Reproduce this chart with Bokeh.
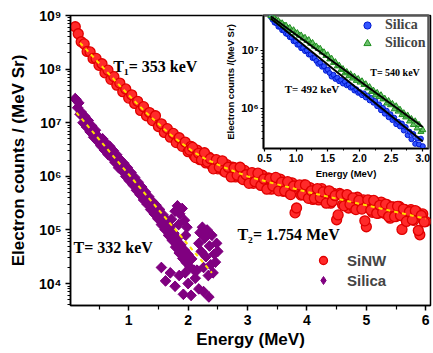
import math
from bokeh.plotting import figure
from bokeh.models import (Range1d, FixedTicker, CustomJSTickFormatter, PrintfTickFormatter,
                          Label, Legend, LegendItem)
from bokeh.layouts import row
from bokeh.embed import file_html
from bokeh.resources import INLINE

# ---------------- main panel data (energy in MeV, log10 of counts / (MeV Sr)) ----------------
sinw_energy = [
    0.10, 0.15, 0.20, 0.25, 0.30, 0.35, 0.40, 0.45, 0.50, 0.55, 0.60, 0.65, 0.70, 0.75, 0.80,
    0.85, 0.90, 0.95, 1.00, 1.05, 1.10, 1.15, 1.20, 1.25, 1.30, 1.35, 1.40, 1.45, 1.50, 1.55,
    1.60, 1.65, 1.70, 1.75, 1.80, 1.85, 1.90, 1.95, 2.00, 2.05, 2.10, 2.15, 2.20, 2.25, 2.30,
    2.35, 2.40, 2.45, 2.50, 2.55, 2.60, 2.65, 2.70, 2.75, 2.80, 2.85, 2.90, 2.95, 3.00, 3.05,
    3.10, 3.15, 3.20, 3.25, 3.30, 3.35, 3.40, 3.45, 3.50, 3.55, 3.60, 3.65, 3.70, 3.75, 3.80,
    3.85, 3.90, 3.95, 4.00, 4.05, 4.10, 4.15, 4.20, 4.25, 4.30, 4.35, 4.40, 4.45, 4.50, 4.55,
    4.60, 4.65, 4.70, 4.75, 4.80, 4.85, 4.90, 4.95, 5.00, 5.05, 5.10, 5.15, 5.20, 5.25, 5.30,
    5.35, 5.40, 5.45, 5.50, 5.55, 5.60, 5.65, 5.70, 5.75, 5.80, 5.85, 5.90, 5.95, 6.00]
sinw_log10_counts = [
    8.79, 8.66, 8.51, 8.47, 8.33, 8.32, 8.20, 8.20, 8.07, 8.10, 7.93, 7.98, 7.81, 7.86, 7.70,
    7.74, 7.58, 7.63, 7.46, 7.52, 7.36, 7.40, 7.23, 7.30, 7.13, 7.19, 7.04, 7.13, 6.93, 6.98,
    6.82, 6.89, 6.73, 6.80, 6.63, 6.72, 6.56, 6.64, 6.46, 6.56, 6.39, 6.49, 6.31, 6.42, 6.25,
    6.36, 6.20, 6.30, 6.14, 6.25, 6.10, 6.22, 6.07, 6.17, 5.99, 6.11, 5.97, 6.11, 5.92, 6.04,
    5.87, 6.03, 5.88, 6.02, 5.82, 5.97, 5.76, 5.95, 5.78, 5.95, 5.72, 5.87, 5.69, 5.88, 5.32,
    5.80, 5.65, 5.84, 5.63, 5.79, 5.57, 5.75, 5.56, 5.77, 5.57, 5.72, 5.50, 5.68, 5.19, 5.68,
    5.47, 5.64, 5.41, 5.58, 5.40, 5.61, 5.41, 5.56, 5.06, 5.55, 5.33, 5.49, 5.31, 5.52, 5.31,
    5.47, 5.22, 5.43, 5.25, 5.44, 5.01, 5.38, 5.19, 5.38, 5.18, 5.34, 4.91, 5.30, 5.16]
# interleaved channels of the high-energy part of the SiNW spectrum
sinw_energy_hi = [
    2.025, 2.075, 2.125, 2.175, 2.225, 2.275, 2.325, 2.375, 2.425, 2.475, 2.525, 2.575,
    2.625, 2.675, 2.725, 2.775, 2.825, 2.875, 2.925, 2.975, 3.025, 3.075, 3.125, 3.175,
    3.225, 3.275, 3.325, 3.375, 3.425, 3.475, 3.525, 3.575, 3.625, 3.675, 3.725, 3.775,
    3.825, 3.875, 3.925, 3.975, 4.025, 4.075, 4.125, 4.175, 4.225, 4.275, 4.325, 4.375,
    4.425, 4.475, 4.525, 4.575, 4.625, 4.675, 4.725, 4.775, 4.825, 4.875, 4.925, 4.975,
    5.025, 5.075, 5.125, 5.175, 5.225, 5.275, 5.325, 5.375, 5.425, 5.475, 5.525, 5.575,
    5.625, 5.675, 5.725, 5.775, 5.825, 5.875, 5.925, 5.975]
sinw_log10_counts_hi = [
    6.49, 6.54, 6.35, 6.43, 6.31, 6.44, 6.27, 6.33, 6.14, 6.31, 6.17, 6.29,
    6.08, 6.17, 5.99, 6.16, 6.02, 6.17, 5.94, 6.03, 5.87, 6.07, 5.90, 6.06,
    5.83, 5.95, 5.76, 5.96, 5.82, 5.98, 5.73, 5.89, 5.73, 5.90, 5.66, 5.82,
    5.41, 5.84, 5.66, 5.84, 5.59, 5.73, 5.59, 5.77, 5.60, 5.71, 5.50, 5.73,
    5.53, 5.64, 5.28, 5.66, 5.45, 5.66, 5.48, 5.60, 5.38, 5.55, 5.39, 5.17,
    5.56, 5.37, 5.55, 5.31, 5.46, 5.33, 5.48, 5.25, 5.43, 5.25, 5.44, 5.27,
    5.39, 5.16, 5.34, 5.19, 5.36, 4.99, 5.27, 5.15]

sinw_fit_energy = [0.18, 0.3, 0.5, 0.7, 0.9, 1.1, 1.3, 1.5, 1.7, 1.9, 2.1, 2.3, 2.6, 3.0,
                   3.5, 4.0, 5.0, 6.0]
sinw_fit_log10 = [8.49, 8.35, 8.11, 7.87, 7.63, 7.40, 7.18, 6.98, 6.78, 6.61, 6.45, 6.32,
                  6.17, 6.00, 5.85, 5.71, 5.46, 5.21]

silica_energy = [
    0.10, 0.12, 0.14, 0.16, 0.18, 0.20, 0.23, 0.26, 0.29, 0.32, 0.35, 0.38, 0.41, 0.44, 0.47,
    0.50, 0.53, 0.56, 0.59, 0.62, 0.65, 0.68, 0.71, 0.74, 0.77, 0.80, 0.83, 0.86, 0.89, 0.92,
    0.95, 0.98, 1.01, 1.04, 1.07, 1.10, 1.13, 1.16, 1.19, 1.22, 1.25, 1.28, 1.31, 1.34, 1.37,
    1.40, 1.43, 1.46, 1.49, 1.52, 1.55, 1.58, 1.61, 1.64, 1.67, 1.70, 1.73, 1.76, 1.79, 1.82,
    1.85, 1.88, 1.91, 1.94, 1.97, 2.00, 2.03, 2.06, 2.10,
    1.72, 1.78, 1.82, 1.86, 1.90, 1.94, 1.98, 1.84, 1.96,
    2.18, 2.20, 2.22, 2.24, 2.26, 2.28, 2.30, 2.32, 2.34, 2.36, 2.38, 2.40, 2.42, 2.44, 2.46,
    2.48, 2.50,
    1.55, 1.62, 1.70, 1.78, 1.85, 1.92, 1.95, 2.00, 2.05, 2.12, 2.15, 2.18, 2.26, 2.35]
silica_log10_counts = [
    7.45, 7.42, 7.28, 7.37, 7.16, 7.20, 7.00, 7.12, 6.92, 7.04, 6.83, 6.94, 6.73, 6.86, 6.66,
    6.73, 6.57, 6.70, 6.49, 6.62, 6.41, 6.56, 6.35, 6.48, 6.26, 6.40, 6.16, 6.31, 6.10, 6.24,
    6.00, 6.16, 5.92, 6.07, 5.84, 5.98, 5.74, 5.89, 5.66, 5.80, 5.56, 5.71, 5.48, 5.62, 5.38,
    5.53, 5.30, 5.46, 5.21, 5.38, 5.10, 5.28, 5.01, 5.18, 4.90, 5.06, 4.81, 4.94, 4.68, 4.84,
    4.57, 4.72, 4.47, 4.62, 4.39, 4.54, 4.31, 4.46, 4.25,
    5.20, 5.35, 5.45, 5.30, 5.40, 5.18, 5.05, 5.10, 4.90,
    4.75, 4.95, 4.60, 5.05, 4.30, 4.85, 4.50, 5.00, 4.15, 4.70, 4.35, 4.90, 4.20, 4.55, 4.40,
    4.75, 4.60,
    4.30, 4.05, 4.20, 3.95, 4.15, 3.80, 4.20, 4.00, 3.78, 4.10, 4.25, 3.90, 3.85, 3.75]

silica_fit_energy = [0.12, 2.40]
silica_fit_log10 = [7.19, 4.20]

x_ticks = [1, 2, 3, 4, 5, 6]
x_minor = [0.5, 1.5, 2.5, 3.5, 4.5, 5.5]
y_ticks = [1e4, 1e5, 1e6, 1e7, 1e8, 1e9]

# ---------------- inset data ----------------
inset_energy = [
    0.60, 0.63, 0.66, 0.69, 0.72, 0.75, 0.78, 0.81, 0.84, 0.87, 0.90, 0.93, 0.96, 0.99, 1.02,
    1.05, 1.08, 1.11, 1.14, 1.17, 1.20, 1.23, 1.26, 1.29, 1.32, 1.35, 1.38, 1.41, 1.44, 1.47,
    1.50, 1.53, 1.56, 1.59, 1.62, 1.65, 1.68, 1.71, 1.74, 1.77, 1.80, 1.83, 1.86, 1.89, 1.92,
    1.95, 1.98, 2.01, 2.04, 2.07, 2.10, 2.13, 2.16, 2.19, 2.22, 2.25, 2.28, 2.31, 2.34, 2.37,
    2.40, 2.43, 2.46, 2.49, 2.52, 2.55, 2.58, 2.61, 2.64, 2.67, 2.70, 2.73, 2.76, 2.79, 2.82,
    2.85, 2.88, 2.91, 2.94, 2.97, 3.00]
inset_silica_log10 = [
    7.58, 7.53, 7.48, 7.47, 7.41, 7.41, 7.35, 7.34, 7.29, 7.28, 7.23, 7.22, 7.16, 7.16, 7.10,
    7.10, 7.04, 7.04, 6.99, 7.00, 6.93, 6.93, 6.87, 6.87, 6.82, 6.77, 6.79, 6.72, 6.73, 6.65,
    6.67, 6.61, 6.55, 6.58, 6.51, 6.53, 6.47, 6.49, 6.43, 6.46, 6.40, 6.41, 6.36, 6.37, 6.31,
    6.33, 6.27, 6.28, 6.23, 6.26, 6.19, 6.22, 6.14, 6.18, 6.10, 6.13, 6.04, 6.07, 5.97, 6.01,
    5.91, 5.96, 5.85, 5.90, 5.80, 5.84, 5.73, 5.77, 5.69, 5.74, 5.62, 5.68, 5.54, 5.60, 5.47,
    5.56, 5.39, 5.48, 5.38, 5.48, 5.35]
inset_silicon_log10 = [
    7.60, 7.56, 7.55, 7.52, 7.51, 7.47, 7.47, 7.43, 7.43, 7.38, 7.39, 7.34, 7.35, 7.30, 7.30,
    7.26, 7.26, 7.21, 7.22, 7.17, 7.18, 7.12, 7.13, 7.07, 7.07, 7.03, 7.03, 6.97, 6.97, 6.91,
    6.92, 6.85, 6.86, 6.79, 6.80, 6.73, 6.74, 6.67, 6.68, 6.61, 6.63, 6.56, 6.59, 6.52, 6.55,
    6.48, 6.51, 6.45, 6.47, 6.41, 6.42, 6.35, 6.37, 6.29, 6.31, 6.23, 6.27, 6.20, 6.23, 6.16,
    6.17, 6.09, 6.13, 6.06, 6.08, 5.99, 6.04, 5.95, 5.98, 5.89, 5.92, 5.85, 5.88, 5.78, 5.82,
    5.72, 5.78, 5.66, 5.72, 5.60, 5.63]
inset_fit_energy = [0.60, 3.00]
inset_silica_fit_log10 = [7.55, 5.43]
inset_silicon_fit_log10 = [7.59, 5.68]

inset_x_ticks = [0.5, 1.0, 1.5, 2.0, 2.5, 3.0]
inset_x_minor = [0.75, 1.25, 1.75, 2.25, 2.75]
inset_y_ticks = [1e6, 1e7]


def pw(vals):
    return [10 ** v for v in vals]


def log_minor(lo, hi):
    return [k * 10 ** e for e in range(lo, hi) for k in range(2, 10)]


SUP_CODE = """
const sup = {"0":"\u2070","1":"\u00b9","2":"\u00b2","3":"\u00b3","4":"\u2074","5":"\u2075",
             "6":"\u2076","7":"\u2077","8":"\u2078","9":"\u2079","-":"\u207b"};
const e = Math.round(Math.log10(tick));
return "10" + String(e).split("").map(c => sup[c]).join("");
"""

SANS = "Liberation Sans"
SERIF = "Liberation Serif"
RED_FILL, RED_LINE = "#ff2a2a", "#e00000"
PURPLE = "#800080"

# ---------------- main figure ----------------
p = figure(width=433, height=353, x_range=Range1d(0.02, 6.08), y_range=Range1d(3.9e3, 1e9),
           y_axis_type="log", output_backend="svg", toolbar_location=None,
           min_border_left=70, min_border_right=3, min_border_top=15, min_border_bottom=48)
p.grid.visible = False
p.outline_line_color = "black"
p.outline_line_width = 1.5
p.background_fill_color = "white"

p.xaxis.ticker = FixedTicker(ticks=x_ticks, minor_ticks=x_minor)
p.yaxis.ticker = FixedTicker(ticks=y_ticks, minor_ticks=log_minor(3, 9))
p.yaxis.formatter = CustomJSTickFormatter(code=SUP_CODE)
for ax in (p.xaxis[0], p.yaxis[0]):
    ax.axis_line_width = 1.5
    ax.major_tick_line_width = 1.5
    ax.minor_tick_line_width = 1.2
    ax.major_tick_out = 5
    ax.major_tick_in = 0
    ax.minor_tick_out = 4
    ax.minor_tick_in = 0
    ax.major_label_text_font = SANS
    ax.major_label_text_font_style = "bold"
    ax.major_label_text_font_size = "14px"
    ax.major_label_text_color = "black"
    ax.axis_label_text_font = SANS
    ax.axis_label_text_font_style = "bold"
    ax.axis_label_text_font_size = "17px"
    ax.axis_label_text_color = "black"
    ax.major_label_standoff = 4
p.yaxis.minor_tick_out = 3
p.xaxis.axis_label = "Energy (MeV)"
p.yaxis.axis_label = "Electron counts / (MeV Sr)"
p.xaxis.axis_label_standoff = 2
p.yaxis.axis_label_standoff = 8

r_sinw = p.scatter(sinw_energy, pw(sinw_log10_counts), marker="circle", size=10,
                   fill_color=RED_FILL, line_color=RED_LINE, line_width=1.3)
p.scatter(sinw_energy_hi, pw(sinw_log10_counts_hi), marker="circle", size=10,
          fill_color=RED_FILL, line_color=RED_LINE, line_width=1.3)
# diamond glyph (hidden beneath the rotated squares) used for the legend key
r_sil_key = p.scatter(silica_energy, pw(silica_log10_counts), marker="diamond", size=10,
                      fill_color=PURPLE, line_color=PURPLE)
p.scatter(silica_energy, pw(silica_log10_counts), marker="square", angle=math.pi / 4,
          size=7.5, fill_color=PURPLE, line_color=PURPLE, line_width=1)
p.line(sinw_fit_energy, pw(sinw_fit_log10), line_color="#ffe000", line_width=2, line_dash="4 4")
p.line(silica_fit_energy, pw(silica_fit_log10), line_color="#ffe000", line_width=2,
       line_dash="4 4")

for txt, x, y in [("T\u2081= 353 keV", 0.74, 1.1e8), ("T= 332 keV", 0.07, 4.8e4),
                  ("T\u2082= 1.754 MeV", 2.83, 8.4e4)]:
    p.add_layout(Label(x=x, y=y, text=txt, text_font=SERIF, text_font_style="bold",
                       text_font_size="16px", text_color="black", text_baseline="alphabetic"))

leg = Legend(items=[LegendItem(label="SiNW", renderers=[r_sinw]),
                    LegendItem(label="Silica", renderers=[r_sil_key])],
             location=(243, 15), padding=0, spacing=0, glyph_width=20, glyph_height=20,
             label_height=20, label_standoff=14, border_line_alpha=0,
             background_fill_alpha=0, label_text_font=SANS, label_text_font_style="bold",
             label_text_font_size="15px")
p.add_layout(leg)

# ---------------- inset figure ----------------
ins = figure(width=209, height=196, x_range=Range1d(0.485, 3.09),
             y_range=Range1d(10 ** 5.31, 10 ** 7.603), y_axis_type="log",
             output_backend="svg", toolbar_location=None,
             min_border_left=36, min_border_right=3, min_border_top=15, min_border_bottom=48)
ins.border_fill_alpha = 0
ins.background_fill_color = "white"
ins.grid.visible = False
ins.outline_line_color = "#555555"
ins.outline_line_width = 2.5
ins.xaxis.ticker = FixedTicker(ticks=inset_x_ticks, minor_ticks=inset_x_minor)
ins.xaxis.formatter = PrintfTickFormatter(format="%.1f")
ins.yaxis.ticker = FixedTicker(ticks=inset_y_ticks, minor_ticks=log_minor(5, 7))
ins.yaxis.formatter = CustomJSTickFormatter(code=SUP_CODE)
for ax in (ins.xaxis[0], ins.yaxis[0]):
    ax.axis_line_width = 1.2
    ax.major_tick_line_width = 1.2
    ax.minor_tick_line_width = 1
    ax.major_tick_out = 3
    ax.major_tick_in = 0
    ax.minor_tick_out = 2
    ax.minor_tick_in = 0
    ax.major_label_standoff = 2
    ax.major_label_text_font = SANS
    ax.major_label_text_font_style = "bold"
    ax.major_label_text_font_size = "10.5px"
    ax.major_label_text_color = "black"
    ax.axis_label_text_font = SANS
    ax.axis_label_text_font_style = "bold"
    ax.axis_label_text_font_size = "9.5px"
    ax.axis_label_text_color = "black"
ins.yaxis.major_label_text_font_size = "11px"
ins.xaxis.axis_label = "Energy (MeV)"
ins.yaxis.axis_label = "Electron counts /(MeV Sr)"
ins.xaxis.axis_label_standoff = 3
ins.yaxis.axis_label_standoff = 2

r_blue = ins.scatter(inset_energy, pw(inset_silica_log10), marker="circle", size=5,
                     fill_color="#3355ff", line_color="#0018d0", line_width=1)
r_green = ins.scatter(inset_energy, pw(inset_silicon_log10), marker="triangle", size=6,
                      fill_color="#6cc06c", line_color="#1f8f1f", line_width=1)
ins.line(inset_fit_energy, pw(inset_silica_fit_log10), line_color="black", line_width=2)
ins.line(inset_fit_energy, pw(inset_silicon_fit_log10), line_color="black", line_width=2)

ins.add_layout(Label(x=2.17, y=3.4e6, text="T= 540 keV", text_font=SERIF,
                     text_font_style="bold", text_font_size="10px", text_color="black"))
ins.add_layout(Label(x=0.82, y=1.74e6, text="T= 492 keV", text_font=SERIF,
                     text_font_style="bold", text_font_size="11px", text_color="black"))

ileg = Legend(items=[LegendItem(label="Silica", renderers=[r_blue]),
                     LegendItem(label="Silicon", renderers=[r_green])],
              location=(95, 96), padding=0, spacing=0, glyph_width=18, glyph_height=18,
              label_height=18, label_standoff=9, border_line_alpha=0,
              background_fill_alpha=0, label_text_font=SERIF, label_text_font_style="bold",
              label_text_font_size="14px")
ins.add_layout(ileg)

ins.styles = {"position": "absolute", "left": "222px", "top": "0px", "z-index": "10"}

layout = row(p, ins)
open("out.html", "w").write(file_html(layout, INLINE))
